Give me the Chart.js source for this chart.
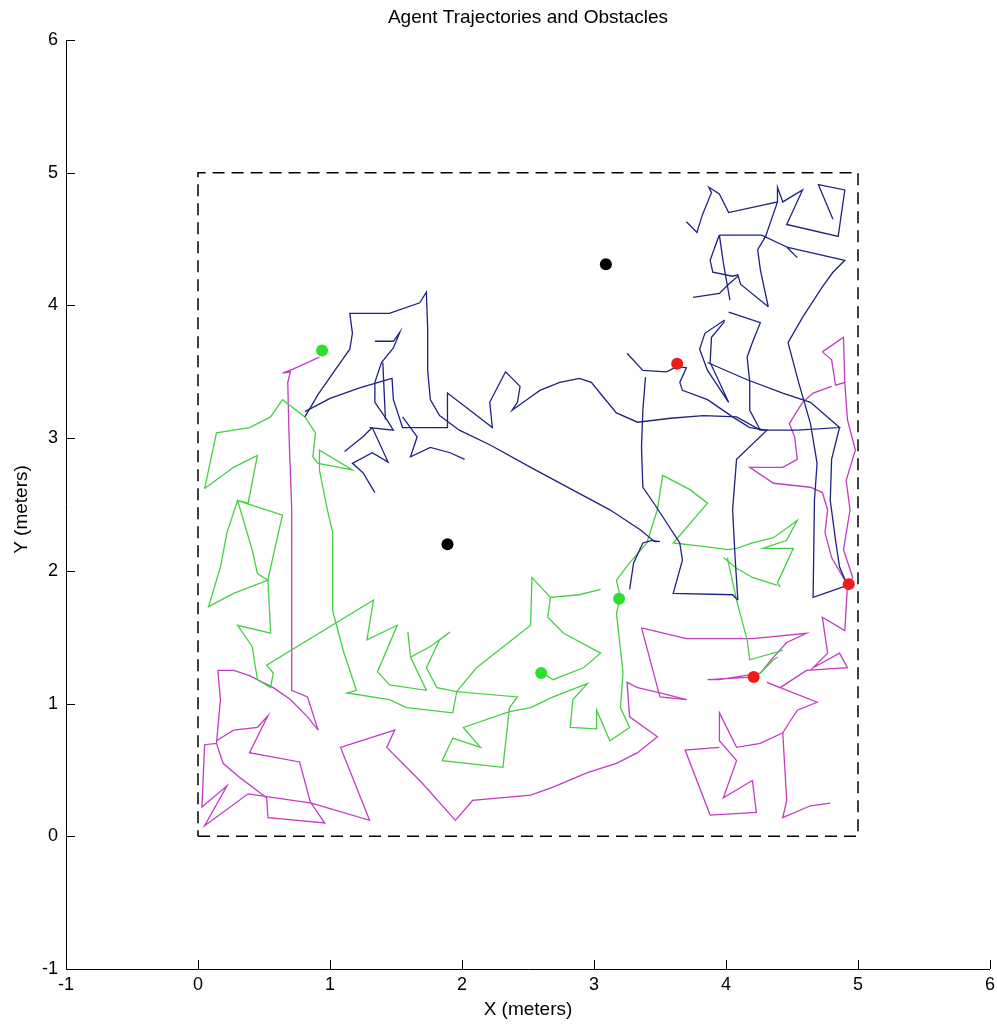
<!DOCTYPE html>
<html>
<head>
<meta charset="utf-8">
<title>Agent Trajectories and Obstacles</title>
<script src="https://cdn.jsdelivr.net/npm/chart.js@4.4.1/dist/chart.umd.min.js"></script>
<style>
    html, body { margin: 0; padding: 0; background: #fff; }
    #plot { display: block; }
</style>
</head>
<body>
<canvas id="plot" width="997" height="1026"></canvas>
<script>
// Axis ticks (meters)
const axisTicks = [-1, 0, 1, 2, 3, 4, 5, 6];

// Arena boundary
const fieldCorners = [[0, 0], [5, 0], [5, 5], [0, 5], [0, 0]];

// Obstacles, start and goal markers
const obstacles = [[1.89, 2.20], [3.09, 4.31]];
const startPoints = [[0.94, 3.66], [2.60, 1.23], [3.19, 1.79]];
const goalPoints = [[3.63, 3.56], [4.93, 1.90], [4.21, 1.20]];

// Blue agent trajectory pieces
const blue1 = [[0.81,3.16],[0.91,3.33],[1.05,3.53],[1.15,3.67],[1.17,3.79],[1.15,3.94],[1.30,3.94],[1.45,3.94],[1.68,4.02],[1.73,4.10],[1.74,3.82],[1.74,3.51],[1.76,3.29],[1.83,3.17],[1.98,3.06],[2.21,2.95],[2.52,2.78],[2.82,2.62],[3.12,2.46],[3.35,2.31],[3.46,2.22],[3.48,2.22]];
const blue2 = [[0.81,3.20],[1.00,3.30],[1.23,3.38],[1.47,3.45],[1.48,3.29],[1.55,3.08],[1.89,3.08],[1.89,3.34],[2.06,3.21],[2.23,3.08],[2.21,3.27],[2.33,3.50],[2.44,3.39],[2.42,3.27],[2.38,3.21],[2.52,3.31],[2.59,3.36],[2.74,3.42],[2.89,3.45],[2.98,3.42],[3.07,3.31],[3.17,3.19],[3.33,3.12],[3.58,3.15],[3.83,3.17],[4.08,3.16],[4.26,3.06],[4.54,3.06]];
const blue3 = [[1.34,3.73],[1.48,3.73],[1.53,3.80],[1.48,3.68],[1.39,3.57],[1.34,3.42],[1.34,3.27],[1.43,3.14],[1.48,3.06],[1.30,3.08],[1.32,3.08],[1.44,2.82],[1.32,2.89],[1.17,2.81],[1.25,2.74],[1.34,2.59]];
const blue4 = [[1.11,2.90],[1.25,3.01],[1.32,3.08]];
const blue5 = [[1.40,3.57],[1.42,3.14]];
const blue6 = [[1.55,3.16],[1.66,3.01],[1.61,2.86],[1.76,2.93],[1.91,2.89],[2.02,2.84]];
const blue7 = [[3.25,3.64],[3.37,3.51],[3.55,3.50],[3.63,3.54],[3.70,3.53],[3.65,3.42],[3.67,3.36],[3.86,3.29],[4.05,3.16],[4.18,3.08],[4.31,3.06],[4.08,2.84],[4.05,2.46],[4.07,2.08],[4.09,1.78]];
const blue8 = [[3.39,3.46],[3.37,3.21],[3.36,2.93],[3.37,2.63],[3.46,2.50],[3.65,2.21],[3.67,2.08],[3.60,1.83],[4.05,1.82],[4.09,1.78]];
const blue9 = [[3.27,1.86],[3.30,2.06],[3.37,2.21],[3.44,2.23],[3.50,2.22]];
const blue10 = [[3.70,4.63],[3.78,4.55],[3.82,4.68],[3.89,4.85],[3.87,4.89],[3.95,4.84],[4.02,4.70],[4.39,4.78],[4.39,4.89],[4.43,4.78],[4.58,4.87],[4.46,4.61],[4.85,4.52],[4.90,4.87],[4.70,4.91],[4.81,4.65]];
const blue11 = [[4.39,4.78],[4.30,4.52],[4.24,4.42],[4.26,4.27],[4.32,3.99]];
const blue12 = [[3.95,4.53],[4.27,4.53],[4.46,4.44],[4.54,4.36],[4.46,4.44],[4.90,4.34],[4.81,4.25],[4.73,4.14],[4.58,3.91],[4.47,3.72],[4.55,3.42],[4.64,3.11],[4.69,2.81],[4.67,2.53],[4.66,1.80],[4.92,1.89]];
const blue13 = [[3.95,4.53],[3.93,4.48],[3.88,4.34],[3.90,4.25],[4.05,4.22],[4.09,4.23],[4.11,4.16],[4.32,3.99]];
const blue14 = [[3.95,4.53],[3.98,4.32],[4.03,4.04]];
const blue15 = [[3.75,4.06],[3.95,4.09],[4.02,4.16],[4.09,4.22]];
const blue16 = [[4.02,3.95],[4.26,3.87],[4.20,3.72],[4.16,3.61],[4.18,3.42],[4.18,3.21],[4.26,3.06]];
const blue17 = [[3.99,3.89],[3.84,3.79],[3.80,3.67],[3.86,3.51],[4.02,3.27],[3.88,3.57],[3.89,3.76],[3.99,3.88]];
const blue18 = [[3.86,3.57],[4.16,3.44],[4.43,3.34],[4.64,3.27],[4.86,3.08],[4.54,3.06]];
const blue19 = [[4.86,3.08],[4.80,2.84],[4.79,2.53],[4.83,2.23],[4.86,2.03],[4.92,1.89]];

// Green agent trajectory pieces
const green1 = [[0.05,2.62],[0.14,3.04],[0.39,3.08],[0.55,3.16],[0.64,3.29],[0.81,3.16],[0.89,3.04],[0.87,2.86],[0.91,2.81],[1.17,2.76],[0.92,2.91],[0.92,2.76],[0.98,2.46],[1.02,2.29],[1.02,1.70],[1.10,1.40],[1.20,1.10],[1.13,1.08],[1.45,1.03],[1.58,0.97],[1.93,0.93],[1.96,1.09],[2.42,1.05],[2.36,0.97],[2.31,0.52],[1.85,0.57],[1.93,0.74],[2.14,0.67],[2.01,0.82],[2.36,0.94],[2.52,0.97],[2.69,1.05],[2.95,1.15],[2.84,1.03],[2.82,0.82],[3.02,0.81],[3.02,0.95],[3.12,0.72],[3.27,0.82],[3.20,0.97],[3.22,1.23],[3.17,1.68],[3.20,1.80]];
const green2 = [[0.05,2.62],[0.27,2.78],[0.45,2.87],[0.38,2.51],[0.30,2.53],[0.22,2.29],[0.17,2.03],[0.08,1.73],[0.27,1.83],[0.53,1.93],[0.45,1.98],[0.41,2.16],[0.30,2.53],[0.64,2.42],[0.58,2.16],[0.53,1.93],[0.55,1.53],[0.30,1.59],[0.41,1.43],[0.45,1.18],[0.55,1.12],[0.57,1.23],[0.52,1.29],[1.33,1.78],[1.28,1.48],[1.51,1.59],[1.36,1.24],[1.45,1.14],[1.73,1.10],[1.61,1.35],[1.59,1.54]];
const green3 = [[1.61,1.35],[1.76,1.43],[1.91,1.54],[1.83,1.48],[1.73,1.27],[1.81,1.12],[1.96,1.09],[2.11,1.27],[2.52,1.59],[2.53,1.95],[2.67,1.80],[2.65,1.65],[2.77,1.53],[3.05,1.38],[2.92,1.27],[2.69,1.18],[2.61,1.23]];
const green4 = [[2.67,1.80],[2.89,1.82],[3.05,1.86]];
const green5 = [[3.20,1.80],[3.17,1.93],[3.27,2.06],[3.40,2.21],[3.48,2.46],[3.52,2.72],[3.73,2.61],[3.86,2.51],[3.60,2.21],[3.86,2.18],[4.01,2.16],[4.08,2.17],[4.20,2.21],[4.36,2.25],[4.54,2.38],[4.46,2.23],[4.28,2.17],[4.51,2.17],[4.39,1.91],[4.41,1.88]];
const green6 = [[3.98,2.10],[4.08,2.02],[4.20,1.95],[4.39,1.89]];
const green7 = [[4.01,2.10],[4.08,1.78],[4.16,1.48],[4.18,1.33],[4.43,1.40]];
const green8 = [[4.26,1.23],[4.36,1.33],[4.39,1.35]];

// Magenta agent trajectory pieces
const magenta1 = [[0.92,3.61],[0.72,3.52],[0.64,3.49],[0.70,3.50],[0.68,3.42],[0.69,3.01],[0.71,2.46],[0.71,1.10],[0.83,1.05],[0.91,0.80]];
const magenta2 = [[0.15,1.25],[0.27,1.25],[0.39,1.21],[0.57,1.12],[0.70,1.03],[0.83,0.90],[0.91,0.80]];
const magenta3 = [[0.15,1.25],[0.17,1.03],[0.14,0.70],[0.05,0.69],[0.03,0.22],[0.22,0.38],[0.05,0.08],[0.38,0.32],[0.86,0.25],[1.30,0.12],[1.08,0.67],[1.49,0.80],[1.43,0.67],[1.70,0.40],[1.95,0.12],[2.08,0.27],[2.52,0.31],[2.69,0.37],[2.95,0.48],[3.17,0.55],[3.33,0.63],[3.48,0.75],[3.27,0.90],[3.25,1.16],[3.33,1.12],[3.50,1.08],[3.70,1.03]];
const magenta4 = [[0.14,0.72],[0.27,0.80],[0.45,0.82],[0.53,0.91],[0.39,0.63],[0.77,0.56],[0.85,0.26],[0.96,0.10],[0.53,0.14],[0.52,0.29],[0.32,0.44],[0.19,0.55],[0.14,0.70]];
const magenta5 = [[3.36,1.57],[3.70,1.49],[4.20,1.49],[4.61,1.53],[4.46,1.46],[4.36,1.35],[4.26,1.23],[3.95,1.18],[3.86,1.18],[4.20,1.20]];
const magenta6 = [[3.36,1.57],[3.50,1.05],[3.70,1.03]];
const magenta7 = [[4.73,3.65],[4.89,3.76],[4.90,3.42],[4.83,3.40],[4.80,3.59],[4.73,3.65]];
const magenta8 = [[4.80,3.39],[4.66,3.34],[4.58,3.27],[4.48,3.11],[4.52,3.01],[4.54,2.84],[4.43,2.78],[4.18,2.78],[4.36,2.66],[4.64,2.63],[4.73,2.59],[4.77,2.46],[4.75,2.29],[4.80,2.10],[4.90,1.93]];
const magenta9 = [[4.90,3.42],[4.92,3.14],[4.98,2.91],[4.91,2.68],[4.94,2.46],[4.89,2.16],[4.96,1.95],[4.92,1.89],[4.90,1.55],[4.73,1.65],[4.77,1.38],[4.66,1.27],[4.86,1.38],[4.92,1.27],[4.61,1.25],[4.41,1.12],[4.31,1.16],[4.69,1.01],[4.54,0.95],[4.43,0.78],[4.26,0.70],[4.08,0.67],[3.95,0.93],[3.95,0.72],[4.08,0.57],[3.98,0.29],[4.20,0.42],[4.23,0.18],[3.88,0.16],[3.69,0.65],[3.95,0.67]];
const magenta10 = [[4.43,0.78],[4.46,0.27],[4.43,0.14],[4.64,0.23],[4.79,0.25]];

const bluePaths = [blue1, blue2, blue3, blue4, blue5, blue6, blue7, blue8, blue9, blue10,
    blue11, blue12, blue13, blue14, blue15, blue16, blue17, blue18, blue19];
const greenPaths = [green1, green2, green3, green4, green5, green6, green7, green8];
const magentaPaths = [magenta1, magenta2, magenta3, magenta4, magenta5, magenta6, magenta7, magenta8, magenta9, magenta10];

const FONT = '"Liberation Sans", Arial, sans-serif';

function toXY(list) {
    return list.map(p => ({ x: p[0], y: p[1] }));
}

function markerSet(list, color) {
    return {
        data: toXY(list),
        showLine: false,
        pointRadius: 6,
        pointBackgroundColor: color,
        pointBorderColor: color,
        pointBorderWidth: 0
    };
}

function pathSet(list, color) {
    return {
        data: toXY(list),
        showLine: true,
        borderColor: color,
        borderWidth: 1.3,
        pointRadius: 0,
        tension: 0,
        fill: false
    };
}

// Axis lines, inward ticks and the text around the plot
const axisFrame = {
    id: 'axisFrame',
    afterDraw(chart) {
        const { ctx, chartArea: a, scales } = chart;
        const x = scales.x, y = scales.y;
        ctx.save();
        ctx.strokeStyle = '#000';
        ctx.lineWidth = 1;
        ctx.beginPath();
        ctx.moveTo(a.left + 0.5, a.top);
        ctx.lineTo(a.left + 0.5, a.bottom + 0.5);
        ctx.lineTo(a.right, a.bottom + 0.5);
        axisTicks.forEach(v => {
            const px = Math.round(x.getPixelForValue(v)) + 0.5;
            ctx.moveTo(px, a.bottom);
            ctx.lineTo(px, a.bottom - 9);
            const py = Math.round(y.getPixelForValue(v)) + 0.5;
            ctx.moveTo(a.left, py);
            ctx.lineTo(a.left + 9, py);
        });
        ctx.stroke();

        ctx.fillStyle = '#000';
        ctx.font = '19px ' + FONT;
        ctx.textAlign = 'center';
        ctx.textBaseline = 'middle';
        const cx = (a.left + a.right) / 2;
        ctx.fillText('Agent Trajectories and Obstacles', cx, a.top - 22);
        ctx.fillText('X (meters)', cx, a.bottom + 41);
        ctx.translate(22, (a.top + a.bottom) / 2 + 5);
        ctx.rotate(-Math.PI / 2);
        ctx.fillText('Y (meters)', 0, 0);
        ctx.restore();
    }
};

document.addEventListener('DOMContentLoaded', () => {
    const datasets = [];
    datasets.push(markerSet(obstacles, '#000000'));
    datasets.push(markerSet(startPoints, '#2ee02e'));
    datasets.push(markerSet(goalPoints, '#ee1b1b'));
    bluePaths.forEach(p => datasets.push(pathSet(p, '#1f2185')));
    greenPaths.forEach(p => datasets.push(pathSet(p, '#45cf45')));
    magentaPaths.forEach(p => datasets.push(pathSet(p, '#c23cc2')));
    datasets.push({
        data: toXY(fieldCorners),
        showLine: true,
        borderColor: '#000',
        borderWidth: 1.5,
        borderDash: [12, 7],
        pointRadius: 0
    });

    const tickSetup = scale => { scale.ticks = axisTicks.map(v => ({ value: v })); };

    new Chart(document.getElementById('plot').getContext('2d'), {
        type: 'scatter',
        data: { datasets },
        options: {
            responsive: false,
            animation: false,
            devicePixelRatio: 1,
            layout: { padding: { top: 40, right: 7, left: 0, bottom: 0 } },
            plugins: {
                legend: { display: false },
                title: { display: false },
                tooltip: { enabled: false }
            },
            scales: {
                x: {
                    type: 'linear',
                    min: -1,
                    max: 6,
                    afterBuildTicks: tickSetup,
                    afterFit: scale => {
                        scale.height = 57;
                        scale.paddingLeft = 0;
                        scale.paddingRight = 0;
                    },
                    grid: { display: false, drawTicks: false },
                    border: { display: false },
                    ticks: {
                        color: '#000',
                        padding: 5,
                        maxRotation: 0,
                        autoSkip: false,
                        font: { family: FONT, size: 18 }
                    }
                },
                y: {
                    type: 'linear',
                    min: -1,
                    max: 6,
                    afterBuildTicks: tickSetup,
                    afterFit: scale => {
                        scale.width = 66;
                        scale.paddingTop = 0;
                        scale.paddingBottom = 0;
                    },
                    grid: { display: false, drawTicks: false },
                    border: { display: false },
                    ticks: {
                        color: '#000',
                        padding: 8,
                        autoSkip: false,
                        font: { family: FONT, size: 18 }
                    }
                }
            }
        },
        plugins: [axisFrame]
    });
});
</script>
</body>
</html>
